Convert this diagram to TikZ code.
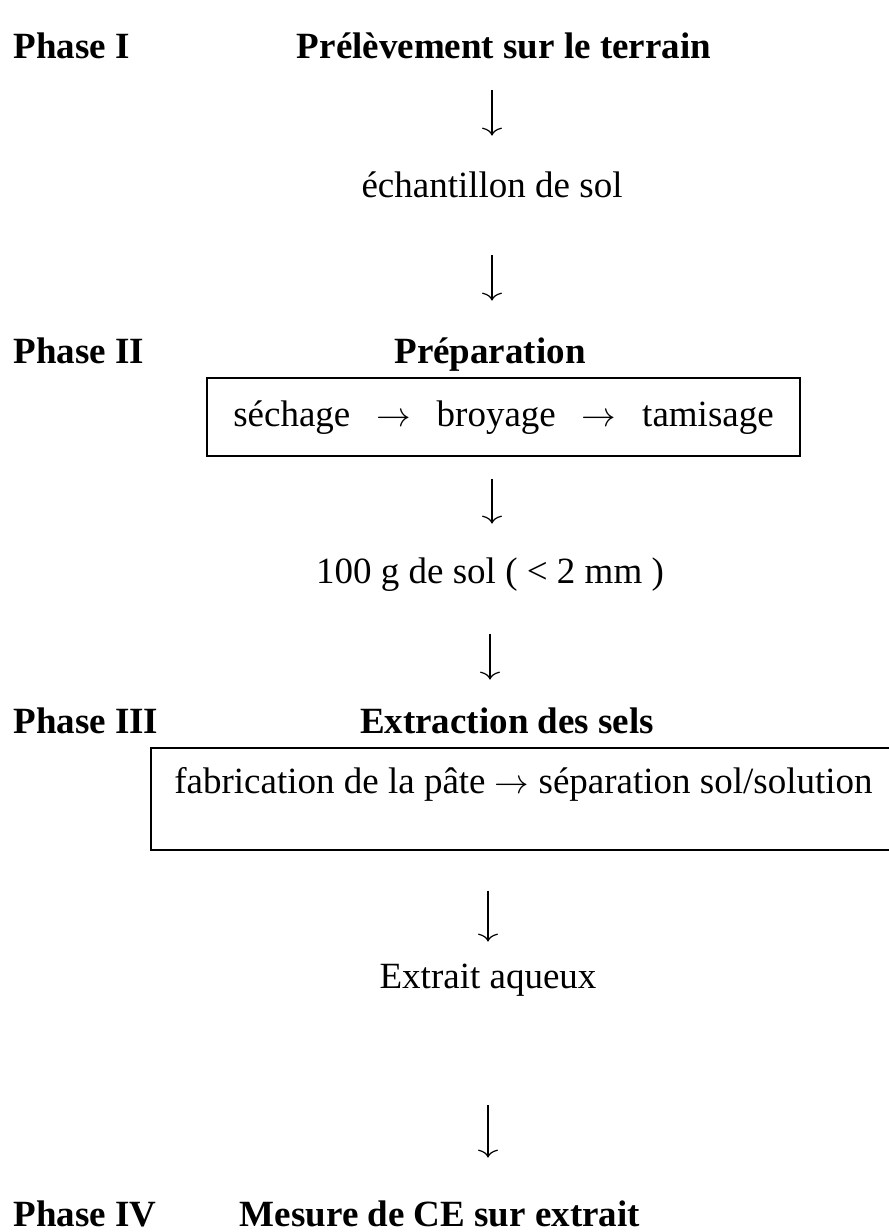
\documentclass[tikz,border=0pt]{standalone}
\usepackage{fontspec}
\setmainfont{Liberation Serif}
\usetikzlibrary{arrows.meta}
\newcommand{\diagfont}{\fontsize{18.5pt}{22pt}\selectfont}
\begin{document}
\begin{tikzpicture}[x=0.5pt,y=-0.5pt,>={To[length=4pt,width=10pt]},
  every node/.style={inner sep=0pt,anchor=base,text height=13.9pt,text depth=4.6pt},
  txt/.style={font=\diagfont},
  title/.style={font=\diagfont\bfseries},
  phase/.style={font=\diagfont\bfseries,anchor=base west},
  stagebox/.style={draw,line width=0.7pt,anchor=center,font=\diagfont},
  flow/.style={->,line width=0.6pt}]
\useasboundingbox (0,0) rectangle (889,1232);
\clip (0,0) rectangle (889,1232);

% phase I
\node[phase] (ph1) at (13,58) {Phase I};
\node[title] (field) at (504,58) {Prélèvement sur le terrain};
\node[txt] (sample) at (492,197) {échantillon de sol};

% phase II
\node[phase] (ph2) at (13,363) {Phase II};
\node[title] (prep) at (490,363) {Préparation};
\node[stagebox,minimum width=296.5pt,minimum height=39pt] (prepbox) at (503.5,417)
  {séchage\hspace{0.7em}$\rightarrow$\hspace{0.7em}broyage\hspace{0.7em}$\rightarrow$\hspace{0.7em}tamisage};
\node[txt] (fine) at (490,583) {100 g de sol ( < 2 mm )};

% phase III
\node[phase] (ph3) at (13,733) {Phase III};
\node[title] (extr) at (507,733) {Extraction des sels};
\node[stagebox,minimum width=372.5pt,minimum height=51pt,text depth=19.9pt] (extrbox) at (523.5,799)
  {fabrication de la pâte $\rightarrow$ séparation sol/solution};
\node[txt] (extract) at (488,988) {Extrait aqueux};

% phase IV
\node[phase] (ph4) at (13,1226) {Phase IV};
\node[title] (meas) at (440,1226) {Mesure de CE sur extrait};

% arrows
\draw[flow,shorten <=11.4pt,shorten >=16.6pt] (sample |- field.south) -- (sample.north);
\draw[flow,shorten <=24.4pt,shorten >=17.1pt] (sample.south) -- (sample |- prep.north);
\draw[flow,shorten <=11pt,shorten >=15.6pt] (sample |- prepbox.south) -- (sample |- fine.north);
\draw[flow,shorten <=20.9pt,shorten >=12.6pt] (fine.south) -- (fine |- extr.north);
\draw[flow,shorten <=20pt,shorten >=9.1pt] (extract |- extrbox.south) -- (extract.north);
\draw[flow,shorten <=53.9pt,shorten >=20.1pt] (extract.south) -- (extract |- meas.north);
\end{tikzpicture}
\end{document}
